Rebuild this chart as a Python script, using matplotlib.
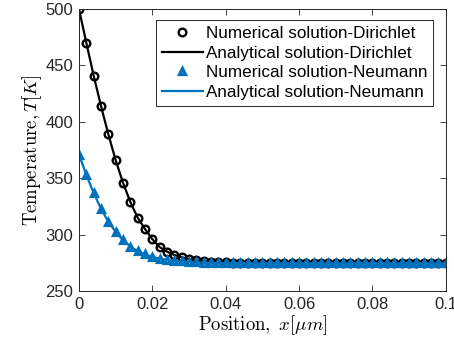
import numpy as np
import matplotlib.pyplot as plt

# valores
x = np.linspace(0, 0.1, 51)

T_dirichlet = [500, 470, 441, 414, 389, 366, 346, 329, 315, 305,
               296, 289, 285, 282, 280, 278.5, 277.5, 276.7, 276.1, 275.7,
               275.4, 275.2, 275.0, 274.9, 274.8, 274.8, 274.7, 274.7, 274.7, 274.6,
               274.6, 274.6, 274.6, 274.6, 274.6, 274.6, 274.6, 274.6, 274.6, 274.6,
               274.6, 274.6, 274.6, 274.6, 274.6, 274.6, 274.6, 274.6, 274.6, 274.6,
               274.6]

T_neumann = [371, 353, 337, 323, 311.5, 302.5, 295, 289.5, 285.5, 282.5,
             280.3, 278.8, 277.7, 276.9, 276.3, 275.8, 275.5, 275.2, 275.0, 274.9,
             274.8, 274.7, 274.7, 274.6, 274.6, 274.6, 274.6, 274.6, 274.6, 274.6,
             274.6, 274.6, 274.6, 274.6, 274.6, 274.6, 274.6, 274.6, 274.6, 274.6,
             274.6, 274.6, 274.6, 274.6, 274.6, 274.6, 274.6, 274.6, 274.6, 274.6,
             274.6]

labels = ['Numerical solution-Dirichlet', 'Analytical solution-Dirichlet',
          'Numerical solution-Neumann', 'Analytical solution-Neumann']

plt.rcParams['font.family'] = ['Liberation Sans', 'DejaVu Sans']
plt.rcParams['mathtext.fontset'] = 'cm'

azul = '#0072BD'
cinza = '#262626'

fig = plt.figure(figsize=(4.54, 3.47), dpi=100)
ax = fig.add_axes([0.174, 0.161, 0.808, 0.813])

ax.plot(x, T_dirichlet, 'o', color='black', mfc='white', ms=5.5, mew=1.7, label=labels[0])
ax.plot(x, T_dirichlet, '-', color='black', lw=1.6, label=labels[1])
ax.plot(x, T_neumann, '^', color=azul, mfc='white', ms=5, mew=2.3, label=labels[2])
ax.plot(x, T_neumann, '-', color=azul, lw=1.6, label=labels[3])

ax.set_xlim(0, 0.1)
ax.set_ylim(250, 500)
ax.set_xticks([0, 0.02, 0.04, 0.06, 0.08, 0.1])
ax.set_xticklabels(['0', '0.02', '0.04', '0.06', '0.08', '0.1'])
ax.set_yticks([250, 300, 350, 400, 450, 500])

ax.tick_params(direction='in', length=4, width=0.6, top=True, right=True,
               labelsize=12, colors=cinza, pad=4)
for s in ax.spines.values():
    s.set_linewidth(0.7)
    s.set_color(cinza)

ax.set_xlabel(r'$\mathrm{Position,}\ x[\mu m]$', fontsize=13.5, labelpad=1)
ax.set_ylabel(r'$\mathrm{Temperature,}T[K]$', fontsize=13.5, labelpad=1)

leg = ax.legend(loc='upper right', bbox_to_anchor=(0.965, 0.962), fontsize=12.3,
                frameon=True, fancybox=False, edgecolor=cinza, framealpha=1,
                handlelength=2.4, handletextpad=0.15, labelspacing=0.28,
                borderpad=0.35, borderaxespad=0)
leg.get_frame().set_linewidth(0.7)

plt.savefig('out.png', dpi=100)
